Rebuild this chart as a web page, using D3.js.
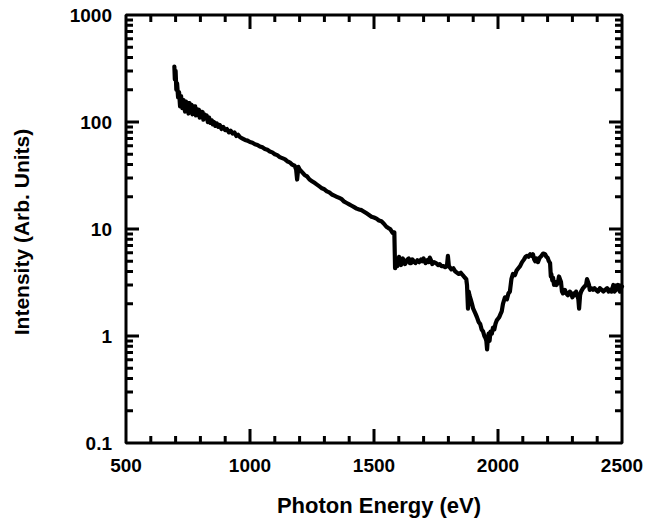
<!DOCTYPE html>
<html>
<head>
<meta charset="utf-8">
<script src="https://cdn.jsdelivr.net/npm/d3@7"></script>
<style>
html,body{margin:0;padding:0;background:#fff;}
svg{display:block;}
text{font-family:"Liberation Sans",Arial,Helvetica,sans-serif;font-weight:bold;fill:#000;}
</style>
</head>
<body>
<svg id="chart" width="647" height="520"></svg>
<script>
// Photon energy (eV) — rows of 10, aligned with intensity rows below
const energy = [
  695,697,700,703,706,710,714,718,722,725,
  727,732,736,738,742,745,749,752,756,760,
  764,768,772,775,779,782,786,790,794,797,
  801,805,809,812,816,820,825,830,835,840,
  845,850,855,860,866,872,878,885,892,900,
  907,915,922,930,937,945,952,960,970,980,
  990,1000,1010,1020,1030,1040,1050,1060,1070,1080,
  1090,1100,1110,1120,1130,1140,1150,1160,1170,1180,
  1186,1190,1195,1200,1210,1220,1230,1240,1250,1260,
  1270,1280,1290,1300,1310,1320,1330,1340,1350,1360,
  1370,1380,1390,1400,1410,1420,1430,1440,1450,1460,
  1470,1480,1490,1500,1510,1520,1530,1540,1550,1558,
  1565,1570,1575,1582,1585,1588,1590,1594,1597,1601,
  1605,1609,1612,1616,1620,1625,1630,1635,1640,1645,
  1650,1655,1660,1667,1675,1682,1690,1695,1700,1708,
  1715,1720,1725,1730,1735,1742,1750,1758,1765,1772,
  1780,1787,1794,1798,1802,1805,1812,1820,1828,1835,
  1842,1850,1858,1867,1872,1875,1879,1882,1885,1890,
  1895,1900,1905,1910,1915,1922,1928,1934,1940,1945,
  1950,1953,1956,1959,1962,1966,1970,1975,1980,1985,
  1990,1995,2000,2005,2010,2015,2020,2028,2036,2042,
  2048,2054,2060,2068,2075,2082,2089,2097,2105,2111,
  2117,2123,2130,2136,2141,2146,2150,2155,2161,2168,
  2175,2182,2190,2195,2200,2205,2210,2213,2215,2219,
  2222,2226,2230,2236,2242,2246,2250,2254,2258,2262,
  2265,2270,2275,2282,2290,2295,2300,2305,2310,2315,
  2320,2324,2327,2331,2335,2339,2343,2349,2355,2359,
  2363,2367,2370,2376,2383,2389,2395,2403,2411,2418,
  2425,2432,2440,2446,2452,2458,2465,2470,2475,2480,
  2484,2488,2492,2496,2500
];
// Intensity (arb. units)
const intensity = [
  330,250,300,200,230,170,190,140,175,150,
  135,160,140,125,155,135,150,120,150,130,
  145,118,140,125,140,115,132,122,130,110,
  125,113,124,105,118,108,115,100,110,98,
  104,95,100,92,97,90,94,86,90,84,
  86,80,83,78,80,74,76,72,70,68,
  67,65,64,62,61,59,58,56,55,53,
  52,50,49,47,46,45,43,42,40,39,
  36,29,38,36,34,32,31,29,28,27,
  26,25,24,23.5,22.5,22,21,20.5,20,19.5,
  19,18,17.5,17,16.5,16,15.5,15.2,15,14.5,
  14,13.5,13,12.8,12.5,12,11.8,11.2,10.5,10.2,
  10,9.6,9.2,9.3,4.3,5.3,5.0,4.5,4.7,5.5,
  5.0,4.6,4.9,5.3,5.1,4.7,4.9,5.2,5.3,4.8,
  4.8,5.2,5.0,4.8,5.1,4.9,5.2,5.0,5.3,4.8,
  5.1,4.9,5.4,5.1,4.7,4.9,4.8,4.6,4.7,4.5,
  4.5,4.4,4.5,5.6,4.5,4.4,4.2,4.3,4.0,3.9,
  3.8,3.9,3.7,3.5,3.4,3.0,1.8,2.6,2.4,2.2,
  2.0,1.8,1.7,1.6,1.5,1.35,1.3,1.15,1.1,1.0,
  0.95,0.9,0.75,0.95,1.05,0.9,1.1,1.05,1.2,1.15,
  1.3,1.4,1.45,1.5,1.6,1.7,2.0,2.3,2.2,2.5,
  2.6,3.4,3.8,3.7,4.1,4.3,4.5,4.9,5.2,5.5,
  5.6,5.5,5.8,5.6,5.8,5.2,5.0,5.3,4.9,5.4,
  5.6,5.9,5.8,5.5,5.4,5.0,4.8,3.6,3.8,3.3,
  3.5,3.0,3.2,3.0,3.2,3.6,3.4,3.2,2.6,2.5,
  2.6,2.7,2.5,2.4,2.6,2.5,2.3,2.5,2.4,2.6,
  2.4,2.2,1.8,2.4,2.6,2.7,2.8,2.9,3.0,3.4,
  3.2,3.0,2.7,2.8,2.7,2.8,2.7,2.6,2.8,2.7,
  2.6,2.7,2.8,2.6,2.7,2.6,3.0,2.6,2.7,2.9,
  3.0,2.7,2.6,2.8,2.9
];

const xMajorTicks = [500,1000,1500,2000,2500];
const xMinorTicks = [600,700,800,900,1100,1200,1300,1400,1600,1700,1800,1900,2100,2200,2300,2400];
const yMajorTicks = [0.1,1,10,100,1000];
const yMajorLabels = ["0.1","1","10","100","1000"];
const yMinorTicks = [0.2,0.3,0.4,0.5,0.6,0.7,0.8,0.9,2,3,4,5,6,7,8,9,20,30,40,50,60,70,80,90,200,300,400,500,600,700,800,900];

const xTitle = "Photon Energy (eV)";
const yTitle = "Intensity (Arb. Units)";

const L = 126, R = 622, T = 15, B = 443;
const svg = d3.select("#chart");
const x = d3.scaleLinear().domain([500,2500]).range([L,R]);
const y = d3.scaleLog().domain([0.1,1000]).range([B,T]);

// frame + inward ticks as ONE continuous polyline (no sub-paths)
const xAll = xMajorTicks.map(v=>({v,len:14})).concat(xMinorTicks.map(v=>({v,len:7})))
  .sort((a,b)=>a.v-b.v);
const yAll = yMajorTicks.map(v=>({v,len:13})).concat(yMinorTicks.map(v=>({v,len:7})))
  .sort((a,b)=>a.v-b.v);
const poly = [];
// bottom edge, left to right
poly.push([L,B]);
xAll.forEach(t=>{ const px=x(t.v); poly.push([px,B],[px,B-t.len],[px,B]); });
poly.push([R,B]);
// right edge, bottom to top
yAll.forEach(t=>{ const py=y(t.v); poly.push([R,py],[R-t.len,py],[R,py]); });
poly.push([R,T]);
// top edge, right to left
xAll.slice().reverse().forEach(t=>{ const px=x(t.v); poly.push([px,T],[px,T+t.len],[px,T]); });
poly.push([L,T]);
// left edge, top to bottom
yAll.slice().reverse().forEach(t=>{ const py=y(t.v); poly.push([L,py],[L+t.len,py],[L,py]); });
poly.push([L,B]);
svg.append("path").datum(poly)
  .attr("fill","none").attr("stroke","#000").attr("stroke-width",3)
  .attr("stroke-linejoin","miter").attr("stroke-miterlimit",1)
  .attr("d",d3.line());

// tick labels
svg.append("g").selectAll("text").data(xMajorTicks).join("text")
  .attr("x",d=>x(d)).attr("y",472).attr("text-anchor","middle").attr("font-size","19px")
  .text(d=>d3.format("d")(d));
svg.append("g").selectAll("text").data(yMajorTicks).join("text")
  .attr("x",112).attr("y",d=>y(d)).attr("dy","0.36em").attr("text-anchor","end").attr("font-size","19px")
  .text((d,i)=>yMajorLabels[i]);

// data line
const pts = energy.map((e,i)=>[e,intensity[i]]);
svg.append("path").datum(pts)
  .attr("fill","none").attr("stroke","#000").attr("stroke-width",4.2)
  .attr("stroke-linejoin","round").attr("stroke-linecap","round")
  .attr("d",d3.line().x(d=>x(d[0])).y(d=>y(d[1])));

// titles
svg.append("text").attr("x",379).attr("y",513).attr("text-anchor","middle")
  .attr("font-size","22px").text(xTitle);
svg.append("text").attr("transform",`translate(29,232) rotate(-90)`)
  .attr("text-anchor","middle").attr("font-size","21px").text(yTitle);
</script>
</body>
</html>
